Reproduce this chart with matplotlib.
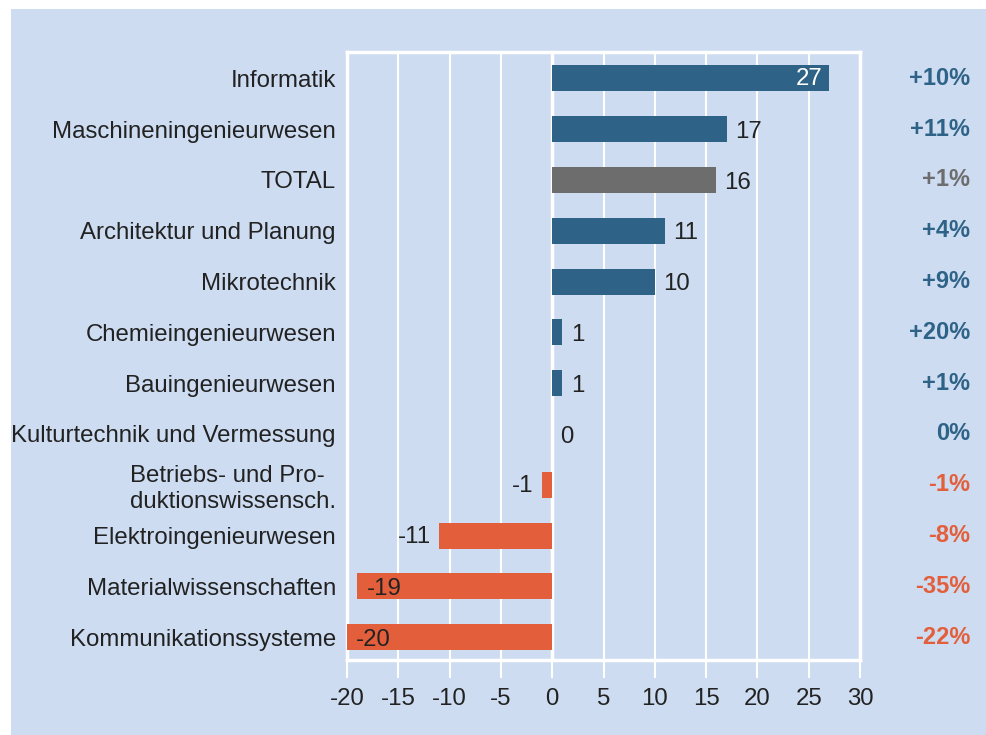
import matplotlib.pyplot as plt
import matplotlib.transforms as mtransforms
from matplotlib.patches import Rectangle

plt.rcParams['font.family'] = ['Liberation Sans', 'DejaVu Sans']

categories = ["Informatik", "Maschineningenieurwesen", "TOTAL", "Architektur und Planung",
              "Mikrotechnik", "Chemieingenieurwesen", "Bauingenieurwesen",
              "Kulturtechnik und Vermessung", "Betriebs- und Pro-\nduktionswissensch.",
              "Elektroingenieurwesen", "Materialwissenschaften", "Kommunikationssysteme"]
values = [27, 17, 16, 11, 10, 1, 1, 0, -1, -11, -19, -20]
pct_labels = ["+10%", "+11%", "+1%", "+4%", "+9%", "+20%", "+1%", "0%",
              "-1%", "-8%", "-35%", "-22%"]

BG = '#cddcf1'
BLUE = '#2e6387'
GRAY = '#6d6d6d'
ORANGE = '#e35f3b'
TXT = '#222222'
FS = 17.3


def bar_color(cat, v):
    if cat == "TOTAL":
        return GRAY
    return BLUE if v >= 0 else ORANGE


W, H = 986, 735
fig = plt.figure(figsize=(W / 100, H / 100), dpi=100)
fig.patch.set_facecolor('white')
fig.patches.append(Rectangle((11 / W, 0), 1, 1 - 9 / H, transform=fig.transFigure,
                             facecolor=BG, edgecolor='none', zorder=-10))

ax = fig.add_axes([347 / W, 1 - 660 / H, (860 - 347) / W, (660 - 52) / H])
ax.set_facecolor(BG)

ys = list(range(len(categories)))
colors = [bar_color(c, v) for c, v in zip(categories, values)]
ax.barh(ys, values, height=0.51, color=colors, zorder=3)

ax.set_xlim(-20, 30)
ax.set_ylim(11.45, -0.52)
ax.set_xticks(range(-20, 31, 5))
ax.set_xticklabels([str(t) for t in range(-20, 31, 5)], fontsize=FS, color=TXT)
ax.set_yticks(ys)
ax.set_yticklabels(categories, fontsize=FS, color=TXT)
for lbl in ax.get_yticklabels():
    lbl.set_multialignment('left')

ax.grid(axis='x', color='white', linewidth=1.5, zorder=1)
ax.axvline(0, color='white', linewidth=2.5, zorder=2)
for s in ax.spines.values():
    s.set_color('white')
    s.set_linewidth(2.5)
ax.tick_params(axis='x', length=13, width=1.5, color='white', pad=7)
ax.tick_params(axis='y', length=0, pad=8)

# value labels next to / inside the bars
for y, v in zip(ys, values):
    if v >= 20:
        ax.text(v - 0.7, y + 0.02, str(v), ha='right', va='center', color='white', fontsize=FS, zorder=4)
    elif v <= -15:
        ax.text(v + 0.9, y + 0.05, str(v), ha='left', va='center', color=TXT, fontsize=FS, zorder=4)
    elif v < 0:
        ax.text(v - 0.8, y + 0.03, str(v), ha='right', va='center', color=TXT, fontsize=FS, zorder=4)
    else:
        ax.text(v + 0.8, y + 0.05, str(v), ha='left', va='center', color=TXT, fontsize=FS, zorder=4)

# percentage change column on the right
trans = mtransforms.blended_transform_factory(fig.transFigure, ax.transData)
for y, p, c, v in zip(ys, pct_labels, categories, values):
    ax.text(970 / W, y, p, transform=trans, ha='right', va='center', fontsize=17,
            fontweight='bold', color=bar_color(c, v), clip_on=False)

fig.savefig('out.png', dpi=100, facecolor=fig.get_facecolor())
